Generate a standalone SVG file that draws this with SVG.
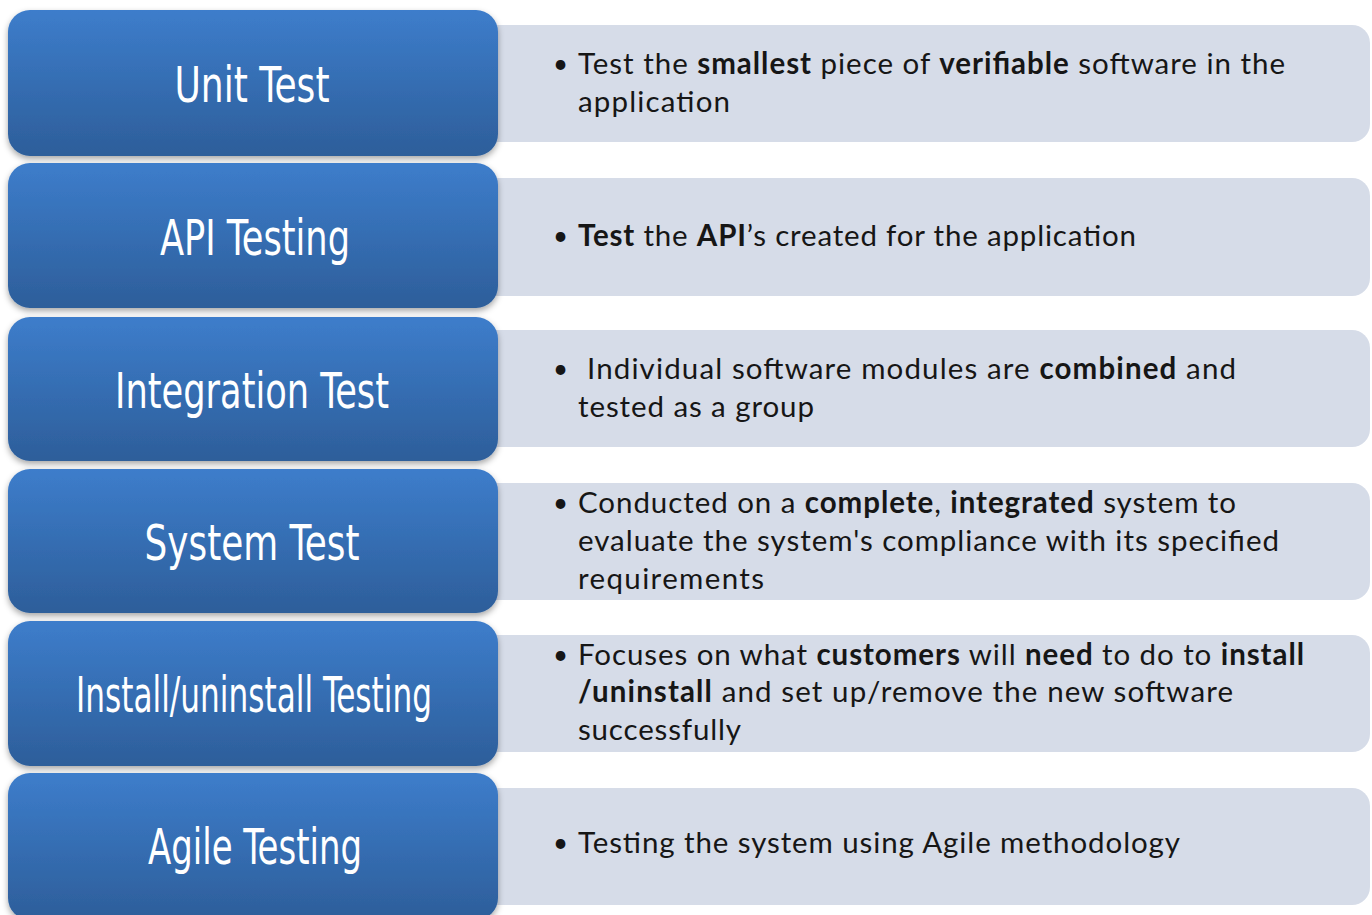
<svg xmlns="http://www.w3.org/2000/svg" width="1372" height="915" viewBox="0 0 1372 915">
<defs>
<linearGradient id="bg" x1="0" y1="0" x2="0" y2="1">
<stop offset="0" stop-color="#3d7dcb"/>
<stop offset="1" stop-color="#2d5e9a"/>
</linearGradient>
<filter id="sh" x="-5%" y="-10%" width="110%" height="125%">
<feDropShadow dx="0" dy="3" stdDeviation="3" flood-color="#000" flood-opacity="0.35"/>
</filter>
</defs>
<style>
.blue{fill:url(#bg);filter:url(#sh)}
.grey{fill:#d6dce8}
.lbl{font-family:"Liberation Sans Narrow","DejaVu Sans Condensed","Liberation Sans",sans-serif;font-stretch:condensed;font-size:50px;fill:#fff;text-anchor:middle}
.txt{font-family:Lato,"Open Sans","Noto Sans",sans-serif;font-size:29.5px;fill:#161616}
.bul{font-family:Lato,"Open Sans","Noto Sans",sans-serif;font-size:26px;fill:#161616}
.b{font-weight:bold}
</style>
<g id="row-unit">
<path class="grey" d="M490 25 H1352 A18 18 0 0 1 1370 43 V124 A18 18 0 0 1 1352 142 H490 Z"/>
<rect class="blue" x="8" y="10" width="490" height="146" rx="22"/>
<text class="lbl" x="252" y="102" textLength="155" lengthAdjust="spacingAndGlyphs">Unit Test</text>
<text class="bul" x="553" y="73">•</text>
<text class="txt" x="578" y="74" textLength="707" lengthAdjust="spacing">Test the <tspan class="b">smallest</tspan> piece of <tspan class="b">verifiable</tspan> software in the</text>
<text class="txt" x="578" y="112" textLength="152" lengthAdjust="spacing">application</text>
</g>
<g id="row-api">
<path class="grey" d="M490 178 H1352 A18 18 0 0 1 1370 196 V278 A18 18 0 0 1 1352 296 H490 Z"/>
<rect class="blue" x="8" y="163" width="490" height="145" rx="22"/>
<text class="lbl" x="255" y="255" textLength="190" lengthAdjust="spacingAndGlyphs">API Testing</text>
<text class="bul" x="553" y="245">•</text>
<text class="txt" x="578" y="246" textLength="558" lengthAdjust="spacing"><tspan class="b">Test</tspan> the <tspan class="b">API</tspan>’s created for the application</text>
</g>
<g id="row-integration">
<path class="grey" d="M490 330 H1352 A18 18 0 0 1 1370 348 V429 A18 18 0 0 1 1352 447 H490 Z"/>
<rect class="blue" x="8" y="317" width="490" height="144" rx="22"/>
<text class="lbl" x="252" y="408" textLength="274" lengthAdjust="spacingAndGlyphs">Integration Test</text>
<text class="bul" x="553" y="378">•</text>
<text class="txt" x="587" y="379" textLength="649" lengthAdjust="spacing">Individual software modules are <tspan class="b">combined</tspan> and</text>
<text class="txt" x="578" y="417" textLength="236" lengthAdjust="spacing">tested as a group</text>
</g>
<g id="row-system">
<path class="grey" d="M490 483 H1352 A18 18 0 0 1 1370 501 V582 A18 18 0 0 1 1352 600 H490 Z"/>
<rect class="blue" x="8" y="469" width="490" height="144" rx="22"/>
<text class="lbl" x="252" y="560" textLength="215" lengthAdjust="spacingAndGlyphs">System Test</text>
<text class="bul" x="553" y="512">•</text>
<text class="txt" x="578" y="513" textLength="658" lengthAdjust="spacing">Conducted on a <tspan class="b">complete</tspan>, <tspan class="b">integrated</tspan> system to</text>
<text class="txt" x="578" y="551" textLength="701" lengthAdjust="spacing">evaluate the system's compliance with its specified</text>
<text class="txt" x="578" y="589" textLength="186" lengthAdjust="spacing">requirements</text>
</g>
<g id="row-install">
<path class="grey" d="M490 635 H1352 A18 18 0 0 1 1370 653 V734 A18 18 0 0 1 1352 752 H490 Z"/>
<rect class="blue" x="8" y="621" width="490" height="145" rx="22"/>
<text class="lbl" x="254" y="712" textLength="356" lengthAdjust="spacingAndGlyphs">Install/uninstall Testing</text>
<text class="bul" x="553" y="664">•</text>
<text class="txt" x="578" y="665" textLength="726" lengthAdjust="spacing">Focuses on what <tspan class="b">customers</tspan> will <tspan class="b">need</tspan> to do to <tspan class="b">install</tspan></text>
<text class="txt" x="578" y="702" textLength="655" lengthAdjust="spacing"><tspan class="b">/uninstall</tspan> and set up/remove the new software</text>
<text class="txt" x="578" y="740" textLength="163" lengthAdjust="spacing">successfully</text>
</g>
<g id="row-agile">
<path class="grey" d="M490 788 H1352 A18 18 0 0 1 1370 806 V887 A18 18 0 0 1 1352 905 H490 Z"/>
<rect class="blue" x="8" y="773" width="490" height="147" rx="22"/>
<text class="lbl" x="255" y="864" textLength="214" lengthAdjust="spacingAndGlyphs">Agile Testing</text>
<text class="bul" x="553" y="852">•</text>
<text class="txt" x="578" y="853" textLength="602" lengthAdjust="spacing">Testing the system using Agile methodology</text>
</g>
<g id="connectors"/>
</svg>
